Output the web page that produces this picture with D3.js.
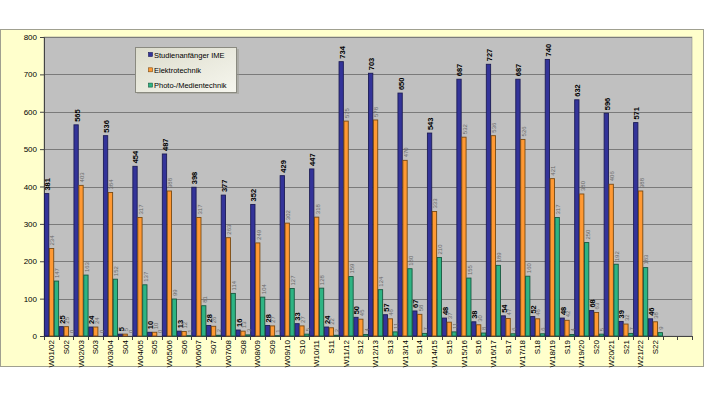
<!DOCTYPE html>
<html><head><meta charset="utf-8">
<script src="https://cdn.jsdelivr.net/npm/d3@7"></script>
<style>body{margin:0;background:#fff}svg{display:block;font-family:"Liberation Sans",Arial,sans-serif}</style>
</head><body><svg id="c" width="705" height="397"></svg>
<script>
const categories = ["W01/02","S02","W02/03","S03","W03/04","S04","W04/05","S05","W05/06","S06","W06/07","S07","W07/08","S08","W08/09","S09","W09/10","S10","W10/11","S11","W11/12","S12","W12/13","S13","W13/14","S14","W14/15","S15","W15/16","S16","W16/17","S17","W17/18","S18","W18/19","S19","W19/20","S20","W20/21","S21","W21/22","S22","",""];
const seriesNames = ["Studienanfänger IME","Elektrotechnik","Photo-/Medientechnik"];
const ime = [381,25,565,24,536,5,454,10,487,13,398,28,377,16,352,28,429,33,447,24,734,50,703,57,650,67,543,48,687,38,727,54,687,52,740,48,632,68,596,39,571,46];
const et  = [234,25,403,24,384,5,317,10,388,12,317,26,263,13,249,27,302,27,318,22,575,45,578,46,470,58,333,37,532,30,536,47,526,46,421,42,380,63,406,32,388,38];
const pmt = [147,0,163,0,152,0,137,0,99,1,81,2,114,3,104,1,127,5,128,2,159,4,124,11,180,7,210,11,155,8,189,6,160,6,317,4,250,5,192,7,183,9];
const yTicks = [0,100,200,300,400,500,600,700,800];

const svg = d3.select("#c");
const L = 44, R = 692, T = 37, B = 336;
const fills = ["#333399","#FF9933","#2EB483"];
const strokes = ["#1c1c55","#7a4a12","#17583f"];

// chart area
svg.append("rect").attr("x",0.5).attr("y",29.5).attr("width",703).attr("height",337)
  .attr("fill","#FFFFCC").attr("stroke","#a0a090");
// plot area
svg.append("rect").attr("x",L).attr("y",T).attr("width",R-L).attr("height",B-T)
  .attr("fill","#C0C0C0").attr("stroke","#909090").attr("stroke-width",0.6);

const x = d3.scaleBand().domain(d3.range(categories.length)).range([L,R]).padding(0);
const xs = d3.scaleBand().domain([0,1,2]).range([0,x.bandwidth()]).padding(0);
const y = d3.scaleLinear().domain([0,800]).range([B,T]);

// gridlines
svg.append("g").selectAll("line").data(yTicks.filter(d=>d>0)).join("line")
  .attr("x1",L).attr("x2",R).attr("y1",d=>Math.round(y(d))+0.5).attr("y2",d=>Math.round(y(d))+0.5)
  .attr("stroke","#7a7a7a").attr("stroke-width",1);

// y axis
const ya = svg.append("g").attr("transform",`translate(${L},0)`)
  .call(d3.axisLeft(y).tickValues(yTicks).tickSize(4).tickPadding(3));
ya.select(".domain").attr("stroke","#444");
ya.selectAll(".tick line").attr("stroke","#444");
ya.selectAll("text").attr("font-size","8px").attr("fill","#000").attr("font-family","Liberation Sans, Arial");

// x axis
const xa = svg.append("g").attr("transform",`translate(0,${B})`)
  .call(d3.axisBottom(x).tickFormat("").tickSize(0));
xa.select(".domain").attr("stroke","#444");
xa.selectAll(".tick").remove();
svg.append("g").selectAll("line").data(d3.range(categories.length+1)).join("line")
  .attr("x1",i=>Math.round(L+i*x.step())+0.5).attr("x2",i=>Math.round(L+i*x.step())+0.5)
  .attr("y1",B).attr("y2",B+4).attr("stroke","#444");
svg.append("g").selectAll("text").data(categories).join("text")
  .attr("transform",(d,i)=>`translate(${x(i)+x.bandwidth()/2},${B+4}) rotate(-90)`)
  .attr("text-anchor","end").attr("dy","0.35em")
  .attr("font-size","8px").attr("fill","#000").text(d=>d);

// bars
const data = [ime,et,pmt];
data.forEach((arr,s)=>{
  const g = svg.append("g");
  g.selectAll("rect").data(arr).join("rect")
    .attr("x",(d,i)=>x(i)+xs(s)+0.5).attr("width",xs.bandwidth()-0.6)
    .attr("y",d=>y(d)).attr("height",d=>Math.max(0,B-y(d)))
    .attr("fill",fills[s]).attr("stroke",strokes[s]).attr("stroke-width",0.9);
  g.selectAll("text").data(arr).join("text")
    .attr("transform",(d,i)=>`translate(${x(i)+xs(s)+xs.bandwidth()/2+1},${y(d)-3}) rotate(-90)`)
    .attr("text-anchor","start").attr("dy","0.35em")
    .attr("font-size", s===0 ? "7.5px" : "6px")
    .attr("font-weight", s===0 ? "bold" : "normal")
    .attr("fill", s===0 ? "#000" : "#6a6a6a")
    .text(d=>d);
});

// legend
const defs = svg.append("defs");
const lg = defs.append("linearGradient").attr("id","lg").attr("x1",0).attr("y1",0).attr("x2",1).attr("y2",1);
lg.append("stop").attr("offset","0%").attr("stop-color","#DCDCCC");
lg.append("stop").attr("offset","100%").attr("stop-color","#F6F6EE");
svg.append("rect").attr("x",137).attr("y",49).attr("width",102).attr("height",45).attr("fill","#9a9a90").attr("opacity",0.5);
svg.append("rect").attr("x",135.5).attr("y",47.5).attr("width",101).attr("height",45)
  .attr("fill","url(#lg)").attr("stroke","#8a8a80");
seriesNames.forEach((n,i)=>{
  const ly = 55 + i*15.3;
  svg.append("rect").attr("x",148.5).attr("y",ly-2.5).attr("width",4).attr("height",4)
    .attr("fill",fills[i]).attr("stroke",strokes[i]).attr("stroke-width",0.6);
  svg.append("text").attr("x",154).attr("y",ly).attr("dy","0.35em")
    .attr("font-size","7.5px").attr("fill","#000").text(n);
});
</script></body></html>
